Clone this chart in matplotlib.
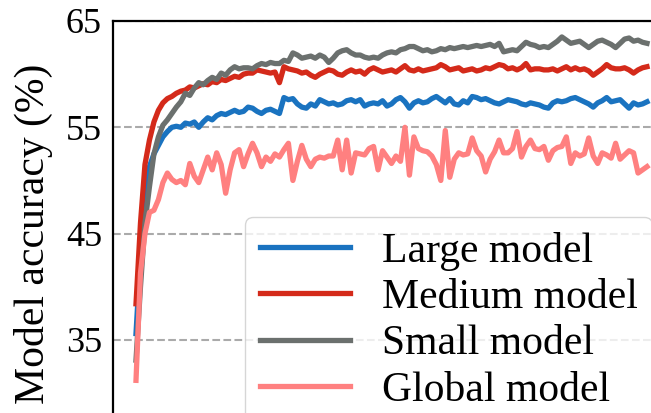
import numpy as np
import matplotlib
matplotlib.use("Agg")
import matplotlib.pyplot as plt

plt.rcParams['font.family'] = 'serif'
plt.rcParams['font.serif'] = ['Liberation Serif', 'DejaVu Serif']
plt.rcParams['mathtext.fontset'] = 'stix'
plt.rcParams['axes.formatter.use_mathtext'] = False

labels = ["Large model", "Medium model", "Small model", "Global model"]
colors = ["#1a73c0", "#d42a1a", "#6b706e", "#ff8080"]

large = [35.6, 43.0, 48.5, 51.3, 52.5, 53.3, 54.1, 54.6, 55.0, 55.1,
         55.0, 55.4, 55.3, 55.5, 55.0, 55.5, 55.9, 55.7, 56.1, 56.3,
         56.2, 56.4, 56.6, 56.4, 56.5, 56.9, 56.8, 56.5, 56.3, 56.6,
         56.7, 56.5, 56.3, 57.8, 57.6, 57.7, 57.2, 56.9, 56.8, 57.2,
         57.0, 57.6, 57.4, 57.2, 57.3, 57.1, 57.2, 57.5, 57.6, 57.4,
         57.6, 57.0, 57.2, 57.3, 57.2, 57.5, 57.0, 57.2, 57.6, 57.8,
         57.4, 56.8, 57.3, 57.5, 57.3, 57.4, 57.7, 57.9, 57.6, 57.3,
         57.7, 57.2, 57.1, 57.5, 57.3, 57.9, 57.8, 57.6, 57.7, 57.5,
         57.3, 57.2, 57.4, 57.6, 57.5, 57.4, 57.2, 57.1, 57.3, 57.2,
         57.1, 56.9, 56.8, 57.3, 57.5, 57.4, 57.5, 57.7, 57.8, 57.6,
         57.4, 57.2, 56.9, 57.3, 57.5, 57.8, 57.4, 57.5, 57.6, 57.2,
         56.8, 57.3, 57.1, 57.2, 57.4]

medium = [38.4, 46.0, 51.5, 53.8, 55.5, 56.6, 57.3, 57.7, 57.9, 58.2,
          58.4, 58.5, 58.8, 58.7, 58.9, 59.1, 59.0, 59.3, 59.2, 59.5,
          59.4, 59.6, 59.8, 59.7, 60.0, 60.1, 60.1, 60.4, 60.3, 60.2,
          60.1, 60.2, 59.2, 60.7, 60.5, 60.4, 60.3, 60.1, 60.2, 59.9,
          59.7, 60.0, 60.2, 60.4, 60.3, 60.0, 59.9, 60.2, 60.4, 60.2,
          60.3, 60.0, 60.4, 60.6, 60.4, 60.2, 60.3, 60.4, 60.2, 60.5,
          60.8, 60.4, 60.3, 60.5, 60.3, 60.4, 60.5, 60.6, 60.9, 60.7,
          60.4, 60.5, 60.6, 60.3, 60.4, 60.5, 60.3, 60.4, 60.6, 60.5,
          60.7, 60.9, 60.8, 60.5, 60.6, 60.4, 60.6, 61.0, 60.4, 60.5,
          60.5, 60.4, 60.4, 60.5, 60.3, 60.5, 60.7, 60.4, 60.6, 60.4,
          60.5, 60.3, 59.9, 60.2, 60.5, 60.9, 60.6, 60.5, 60.5, 60.6,
          60.4, 60.1, 60.4, 60.6, 60.7]

small = [33.1, 40.0, 46.0, 49.4, 52.5, 54.1, 55.2, 55.7, 56.3, 56.9,
         57.4, 58.2, 58.0, 58.7, 59.2, 59.0, 59.4, 59.7, 59.5, 60.1,
         59.9, 60.4, 60.7, 60.5, 60.6, 60.6, 60.5, 60.8, 61.0, 60.9,
         61.1, 61.0, 61.0, 61.3, 61.2, 62.0, 61.8, 61.5, 61.6, 61.7,
         61.5, 61.8, 61.6, 61.1, 61.5, 62.0, 62.2, 62.3, 62.0, 61.8,
         61.8, 61.6, 61.5, 61.6, 61.5, 61.8, 62.0, 62.1, 62.0, 62.3,
         62.4, 62.6, 62.6, 62.4, 62.2, 62.3, 62.1, 62.2, 62.4, 62.3,
         62.5, 62.4, 62.5, 62.6, 62.5, 62.6, 62.7, 62.6, 62.7, 62.8,
         62.6, 62.9, 62.1, 62.2, 62.3, 62.2, 62.6, 63.0, 62.8, 62.7,
         62.5, 62.6, 62.5, 62.8, 63.1, 63.5, 63.2, 62.9, 63.0, 63.1,
         62.8, 62.5, 62.8, 63.1, 63.2, 63.0, 62.8, 62.5, 62.9, 63.3,
         63.4, 63.1, 63.2, 63.0, 62.9]

global_ = [31.2, 41.3, 45.0, 47.0, 47.2, 48.2, 49.8, 50.7, 50.1, 49.8,
           50.0, 49.6, 51.6, 50.4, 49.8, 51.0, 52.2, 51.0, 52.6, 51.5,
           48.8, 51.0, 52.6, 52.9, 51.3, 52.5, 53.5, 52.6, 51.3, 52.2,
           51.8, 52.5, 52.2, 52.9, 53.5, 50.0, 51.8, 53.3, 52.0, 51.3,
           52.0, 52.2, 52.1, 52.3, 52.3, 53.8, 51.0, 53.8, 50.7, 52.6,
           52.5, 52.4, 53.0, 53.2, 51.0, 52.8, 52.2, 51.6, 52.3, 51.8,
           55.0, 50.5, 54.1, 53.0, 52.8, 52.7, 52.3, 51.5, 50.0, 54.7,
           50.3, 52.0, 52.6, 52.4, 52.5, 54.0, 52.8, 52.3, 50.8, 52.0,
           52.7, 53.8, 52.6, 52.6, 53.0, 54.6, 52.2, 53.2, 53.8, 53.0,
           52.9, 53.2, 51.9, 52.8, 53.1, 53.2, 54.1, 51.6, 52.6, 52.3,
           52.5, 54.0, 52.3, 51.6, 52.6, 52.4, 52.1, 53.5, 52.0, 52.4,
           52.8, 52.6, 50.7, 51.0, 51.3]

series = [large, medium, small, global_]
rounds = np.arange(1, len(large) + 1)
yticks = [35, 45, 55, 65]
ytick_labels = ["35", "45", "55", "65"]

W, H = 651, 413
fig = plt.figure(figsize=(W / 100, H / 100), dpi=100)

# axes extends past the right and bottom edges of the figure (cropped view)
ax_left_px, ax_right_px = 113, 660
ax_top_px, ax_bot_px = 21, 425
ax = fig.add_axes([ax_left_px / W, (H - ax_bot_px) / H,
                   (ax_right_px - ax_left_px) / W, (ax_bot_px - ax_top_px) / H])

for vals, lab, col in zip(series, labels, colors):
    ax.plot(rounds, vals, color=col, lw=3.8, label=lab, solid_joinstyle='round')

px_per_round = (647 - 136) / (len(large) - 1)
ax.set_xlim(1 - (136 - ax_left_px) / px_per_round,
            len(large) + (ax_right_px - 647) / px_per_round)
ax.set_ylim(27, 65)
ax.set_xticks([])
ax.tick_params(axis='y', length=0, pad=8)
ax.set_yticks(yticks)
ax.set_yticklabels(ytick_labels)
for t in ax.get_yticklabels():
    t.set_fontfamily('Liberation Serif')
    t.set_fontsize(26)
ax.yaxis.grid(True, linestyle='--', color='#aaaaaa', lw=1.5)
ax.set_axisbelow(True)
for s in ['left', 'top']:
    ax.spines[s].set_linewidth(1.6)
    ax.spines[s].set_color('black')

ax.set_ylabel("Model accuracy (%)", fontsize=30, fontfamily='Liberation Serif')
ax.yaxis.set_label_coords((53 - ax_left_px) / (ax_right_px - ax_left_px), 0.473)

leg = ax.legend(loc='upper left', bbox_to_anchor=(245 / W, 1 - 217 / H),
                bbox_transform=fig.transFigure, borderaxespad=0,
                prop={'family': 'Liberation Serif', 'size': 30},
                handlelength=2.16, handletextpad=0.77,
                labelspacing=0.19, borderpad=0.35, fancybox=True,
                framealpha=0.8, edgecolor='#cccccc')
for line in leg.get_lines():
    line.set_linewidth(3.8)

fig.savefig("out.png", dpi=100)
